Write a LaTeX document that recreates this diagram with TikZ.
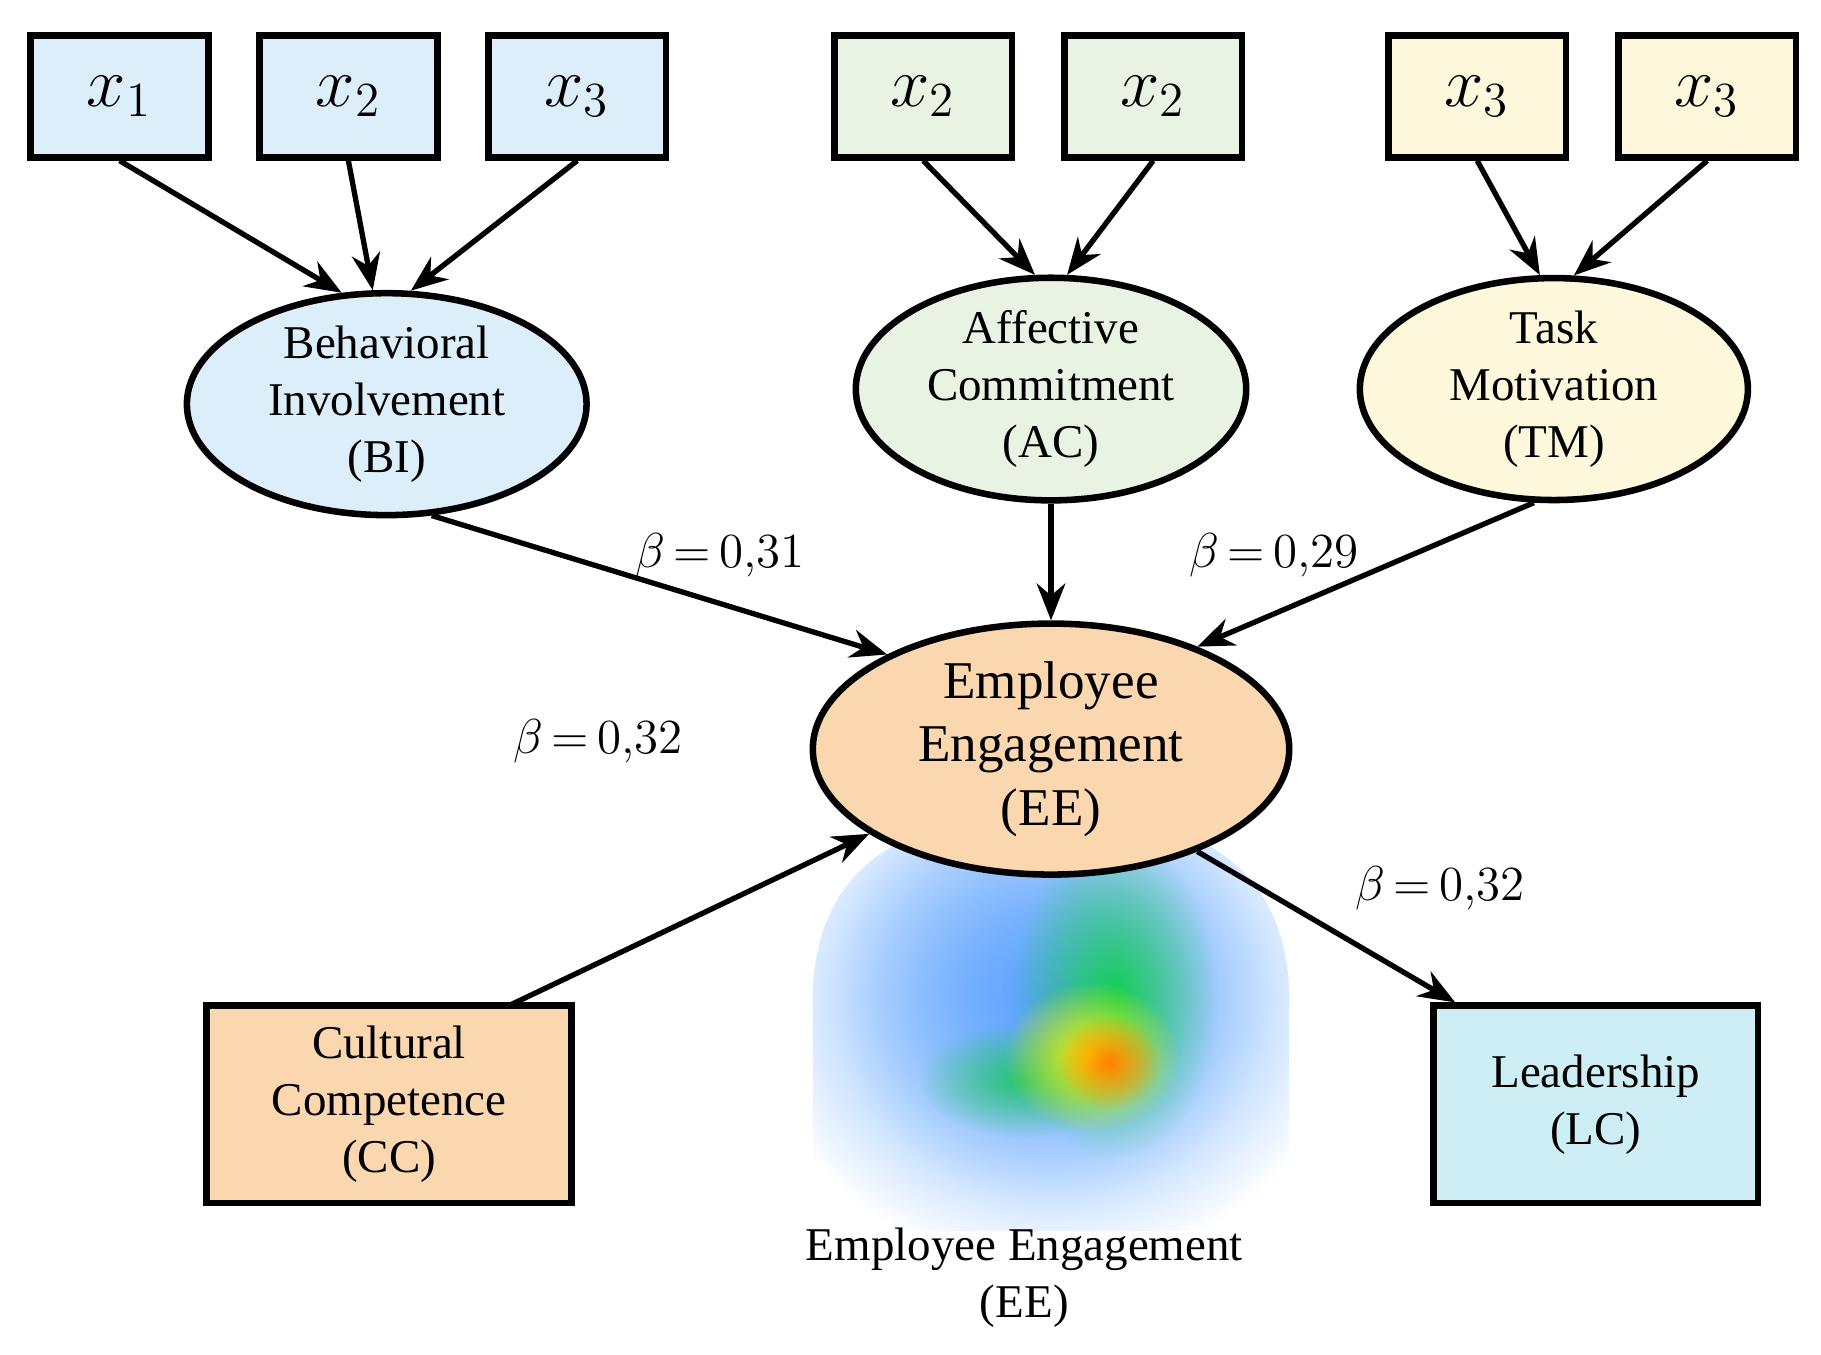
\documentclass[tikz,border=0pt]{standalone}
\usepackage{fontspec}
\setmainfont{Liberation Serif}
\usetikzlibrary{shapes.geometric,fadings,arrows.meta}
\tikzfading[name=fuzzy, inner color=transparent!0, outer color=transparent!100]
\definecolor{cblue}{HTML}{DDEEFB}
\definecolor{cgreen}{HTML}{E8F3E3}
\definecolor{cyel}{HTML}{FDF7DC}
\definecolor{corange}{HTML}{FAD7AF}
\definecolor{clc}{HTML}{CDEEF4}
\begin{document}
\begin{tikzpicture}[x=0.01cm,y=-0.01cm,
 ind/.style={draw,line width=1.6pt,minimum width=1.53cm,minimum height=1.05cm,font=\fontsize{17}{20}\selectfont},
 lat/.style={draw,ellipse,inner sep=0pt,line width=1.6pt,align=center,font=\fontsize{11.5}{14}\selectfont},
 big/.style={draw,line width=1.6pt,align=center,font=\fontsize{11.5}{14}\selectfont},
 arr/.style={-{Stealth[length=9pt,width=7pt]},line width=1.3pt},
 lab/.style={font=\fontsize{11.5}{14}\selectfont}]
\useasboundingbox (0,0) rectangle (1568,1166);
% heatmap
\begin{scope}
\clip (700,1060) -- (700,850) .. controls (705,760) and (760,700) .. (905,700) .. controls (1050,700) and (1105,760) .. (1110,850) -- (1110,1060) -- cycle;
\fill[blue!55!cyan!70!white,path fading=fuzzy] (905,860) ellipse (260 and 230);
\fill[blue!60!cyan!60,opacity=0.6,path fading=fuzzy] (905,850) ellipse (190 and 190);
\fill[green!70!teal,path fading=fuzzy,opacity=0.8] (960,860) ellipse (90 and 140);
\fill[green!60!teal,path fading=fuzzy,opacity=0.7] (880,930) ellipse (90 and 50);
\fill[yellow,path fading=fuzzy] (940,910) ellipse (75 and 65);
\fill[orange,path fading=fuzzy] (955,915) ellipse (45 and 40);
\end{scope}
% indicators
\node[ind,fill=cblue] (a1) at (103,83) {$x_1$};
\node[ind,fill=cblue] (a2) at (300,83) {$x_2$};
\node[ind,fill=cblue] (a3) at (497,83) {$x_3$};
\node[ind,fill=cgreen] (b1) at (795,83) {$x_2$};
\node[ind,fill=cgreen] (b2) at (993,83) {$x_2$};
\node[ind,fill=cyel] (c1) at (1272,83) {$x_3$};
\node[ind,fill=cyel] (c2) at (1470,83) {$x_3$};
% latents
\node[lat,fill=cblue,minimum width=3.44cm,minimum height=1.84cm] (bi) at (333,348) {Behavioral\\Involvement\\(BI)};
\node[lat,fill=cgreen,minimum width=3.36cm,minimum height=1.90cm] (ac) at (905,335) {Affective\\Commitment\\(AC)};
\node[lat,fill=cyel,minimum width=3.34cm,minimum height=1.90cm] (tm) at (1338,335) {Task\\Motivation\\(TM)};
\node[lat,fill=corange,minimum width=4.10cm,minimum height=2.16cm,font=\fontsize{13}{15.5}\selectfont] (ee) at (905,645) {Employee\\Engagement\\(EE)};
\node[big,fill=corange,minimum width=3.14cm,minimum height=1.70cm] (cc) at (335,951) {Cultural\\Competence\\(CC)};
\node[big,fill=clc,minimum width=2.79cm,minimum height=1.70cm] (lc) at (1374,951) {Leadership\\(LC)};
\node[lab,align=center] (cap) at (882,1100) {Employee Engagement\\(EE)};
\coordinate (ccs) at (438,866);
% arrows
\draw[arr] (a1.south) -- (bi.112);
\draw[arr] (a2.south) -- (bi.97);
\draw[arr] (a3.south) -- (bi.78);
\draw[arr] (b1.south) -- (ac.98);
\draw[arr] (b2.south) -- (ac.82);
\draw[arr] (c1.south) -- (tm.97);
\draw[arr] (c2.south) -- (tm.80);
\draw[arr] (bi.-68) -- (ee.150);
\draw[arr] (ac.south) -- (ee.north);
\draw[arr] (tm.-100) -- (ee.35);
\draw[arr] (ccs) -- (ee.-155);
\draw[arr] (ee.-35) -- (lc.144);
% labels
\node[lab] (l1) at (620,478) {$\beta\,{=}\,0{,}31$};
\node[lab] (l2) at (1097,478) {$\beta\,{=}\,0{,}29$};
\node[lab] (l3) at (515,638) {$\beta\,{=}\,0{,}32$};
\node[lab] (l4) at (1240,765) {$\beta\,{=}\,0{,}32$};
\end{tikzpicture}
\end{document}
